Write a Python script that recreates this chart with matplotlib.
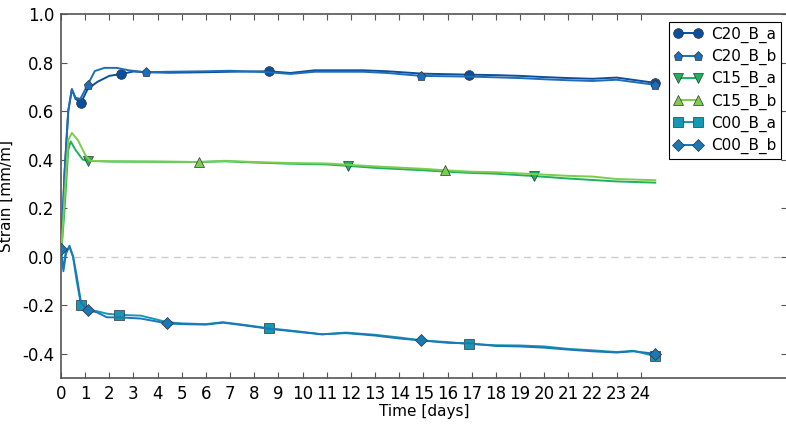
from matplotlib import pyplot
import numpy

pyplot.rcParams['axes.unicode_minus'] = False
pyplot.rcParams['font.family'] = 'DejaVu Sans'

# C20_B_a
t_c20a = [0, 0.15, 0.3, 0.45, 0.6, 0.83, 1.1, 1.5, 2.0, 2.5, 3.0, 3.5, 4.5, 6, 7, 8.6, 9.5, 10.5, 12.5, 13.5,
          15, 16.9, 18, 19, 20, 21, 22, 23, 24.6]
y_c20a = [0.0, 0.35, 0.6, 0.69, 0.65, 0.635, 0.69, 0.72, 0.745, 0.753, 0.763, 0.76, 0.758, 0.76, 0.762, 0.764,
          0.757, 0.768, 0.768, 0.764, 0.754, 0.75, 0.748, 0.745, 0.74, 0.736, 0.733, 0.738, 0.716]
m_c20a = [5, 9, 15, 21, 28]

# C20_B_b
t_c20b = [0, 0.15, 0.3, 0.45, 0.6, 0.8, 1.1, 1.4, 1.8, 2.3, 2.8, 3.5, 4.5, 6, 7, 8.6, 9.5, 10.5, 12.5, 13.5,
          14.9, 16.9, 18, 19, 20, 21, 22, 23, 24.6]
y_c20b = [0.0, 0.35, 0.6, 0.69, 0.655, 0.65, 0.707, 0.765, 0.778, 0.778, 0.768, 0.76, 0.762, 0.764, 0.766, 0.76,
          0.753, 0.762, 0.762, 0.757, 0.745, 0.742, 0.739, 0.736, 0.731, 0.727, 0.724, 0.729, 0.708]
m_c20b = [6, 11, 20, 28]

# C15_B_a
t_c15a = [0, 0.15, 0.3, 0.4, 0.6, 0.9, 1.1, 2, 4, 5.7, 6.8, 8, 9.5, 11, 11.9, 13, 15, 16, 17, 18, 19.6, 21, 22,
          23, 24.6]
y_c15a = [0.0, 0.2, 0.44, 0.475, 0.44, 0.40, 0.395, 0.392, 0.391, 0.39, 0.393, 0.388, 0.383, 0.38, 0.374, 0.366,
          0.356, 0.35, 0.345, 0.342, 0.332, 0.322, 0.316, 0.31, 0.305]
m_c15a = [6, 14, 20]

# C15_B_b
t_c15b = [0, 0.15, 0.3, 0.45, 0.7, 1.0, 1.2, 2, 4, 5.7, 6.8, 8, 9.5, 11, 13, 15, 15.9, 17, 18, 19.6, 21, 22, 23,
          24.6]
y_c15b = [0.0, 0.25, 0.48, 0.51, 0.48, 0.42, 0.395, 0.393, 0.392, 0.39, 0.395, 0.39, 0.386, 0.384, 0.372, 0.362,
          0.356, 0.35, 0.348, 0.34, 0.333, 0.33, 0.32, 0.315]
m_c15b = [9, 16]

# C00_B_a
t_c00a = [0, 0.1, 0.2, 0.35, 0.5, 0.65, 0.83, 1.1, 1.5, 1.9, 2.4, 3.3, 4.4, 5, 6, 6.7, 7.5, 8.6, 10, 10.8, 11.8,
          13, 14, 14.9, 16, 16.9, 18, 19, 20, 21, 22, 23, 23.7, 24.6]
y_c00a = [0.0, -0.04, 0.02, 0.04, 0.0, -0.1, -0.2, -0.22, -0.225, -0.235, -0.24, -0.243, -0.27, -0.275, -0.278,
          -0.27, -0.28, -0.295, -0.31, -0.32, -0.313, -0.322, -0.333, -0.345, -0.352, -0.36, -0.365, -0.366,
          -0.37, -0.38, -0.386, -0.393, -0.388, -0.41]
m_c00a = [6, 10, 17, 25, 33]

# C00_B_b
t_c00b = [0, 0.1, 0.2, 0.35, 0.5, 0.65, 0.83, 1.1, 1.5, 1.9, 2.4, 3.3, 4.4, 5, 6, 6.7, 7.5, 8.6, 10, 10.8, 11.8,
          13, 14, 14.9, 16, 16.9, 18, 19, 20, 21, 22, 23, 23.7, 24.6]
y_c00b = [0.03, -0.06, 0.01, 0.045, 0.0, -0.08, -0.19, -0.22, -0.23, -0.25, -0.25, -0.255, -0.275, -0.278, -0.28,
          -0.272, -0.282, -0.297, -0.312, -0.32, -0.315, -0.325, -0.337, -0.345, -0.355, -0.357, -0.368, -0.37,
          -0.375, -0.383, -0.39, -0.395, -0.39, -0.40]
m_c00b = [0, 7, 12, 23, 33]

x_ticks = list(range(0, 25))
y_ticks = [-0.4, -0.2, 0.0, 0.2, 0.4, 0.6, 0.8, 1.0]

fig = pyplot.figure(figsize=(7.86, 4.24), dpi=100)
#правая граница осей чуть за краем картинки, как в оригинале
ax = fig.add_axes([0.0776, 0.1085, 0.9236, 0.8585])

ax.axhline(0, color='#cccccc', linestyle='--', linewidth=1, dashes=(5, 4), zorder=1)

#серии: (время, значения, маркеры, подпись, цвет, маркер, размер)
series = [
    (t_c20a, y_c20a, m_c20a, 'C20_B_a', '#0b4f9c', 'o', 7),
    (t_c20b, y_c20b, m_c20b, 'C20_B_b', '#1f6db6', 'p', 6.5),
    (t_c15a, y_c15a, m_c15a, 'C15_B_a', '#1fb15c', 'v', 7),
    (t_c15b, y_c15b, m_c15b, 'C15_B_b', '#7ccd4e', '^', 7),
    (t_c00a, y_c00a, m_c00a, 'C00_B_a', '#1797b3', 's', 6.5),
    (t_c00b, y_c00b, m_c00b, 'C00_B_b', '#1b77b6', 'D', 6.5),
]
for t, y, m, name, col, mk, ms in series:
    ax.plot(t, y, color=col, linewidth=1.4, marker=mk, markersize=ms, markevery=m,
            markeredgecolor='#333333', markeredgewidth=0.5, label=name, zorder=3)

ax.set_xlim(0, 30.05)
ax.set_ylim(-0.5, 1.0)
ax.set_xticks(x_ticks)
ax.set_yticks(y_ticks)
ax.set_yticklabels(['-0.4', '-0.2', '0.0', '0.2', '0.4', '0.6', '0.8', '1.0'])

for s in ax.spines.values():
    s.set_color('#555555')
    s.set_linewidth(1.2)
ax.tick_params(direction='in', length=4, width=0.8, color='#555555', top=True, right=True,
               labelsize=12, pad=5)

ax.set_xlabel('Time [days]', fontsize=11, labelpad=1)
ax.set_ylabel('Strain [mm/m]', fontsize=11, labelpad=6)

leg = ax.legend(loc='upper right', fontsize=11, numpoints=2, fancybox=False, framealpha=1,
                handlelength=1.9, handletextpad=0.6, labelspacing=0.4, borderpad=0.3,
                borderaxespad=0, bbox_to_anchor=(0.9925, 0.978))
leg.get_frame().set_edgecolor('black')
leg.get_frame().set_linewidth(0.8)

fig.savefig('out.png')
